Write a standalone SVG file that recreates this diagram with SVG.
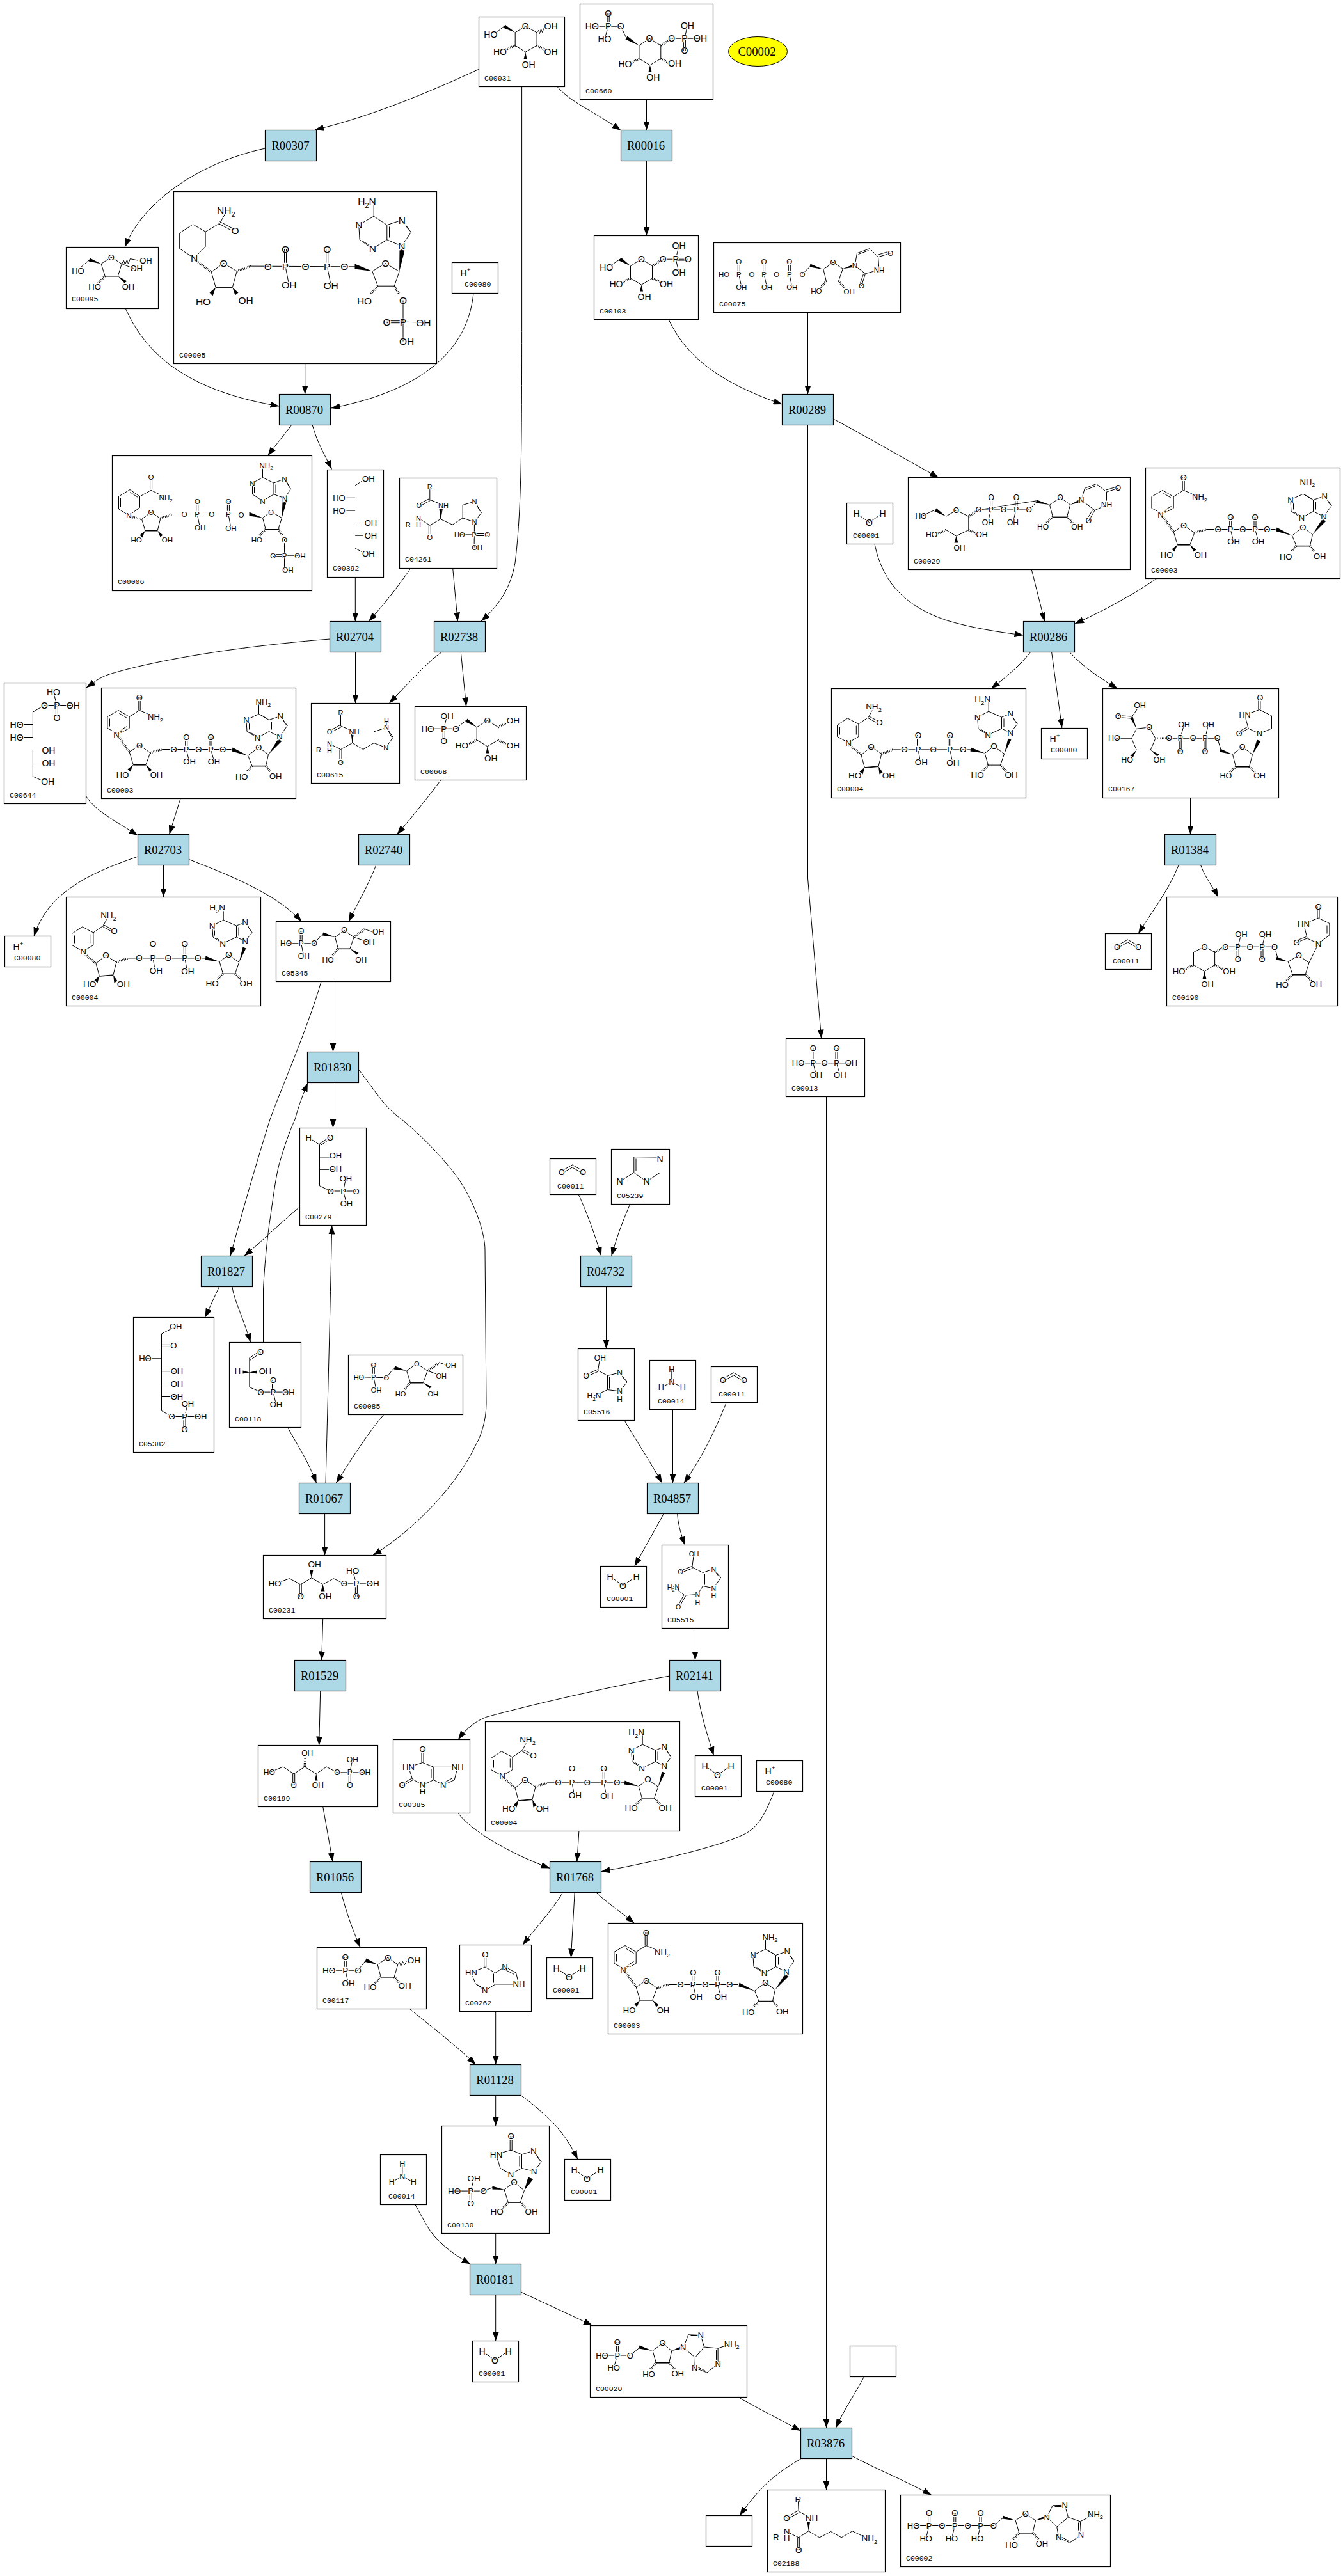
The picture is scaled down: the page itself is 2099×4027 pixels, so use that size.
<svg xmlns="http://www.w3.org/2000/svg" xmlns:xlink="http://www.w3.org/1999/xlink" width="2099" height="4027" viewBox="0 0 2099 4027">
<style>
.bg{fill:#fff}
.r{fill:#add8e6;stroke:#000;stroke-width:1.2}
.c{fill:#fff;stroke:#000;stroke-width:1.2}
.y{fill:#ff0;stroke:#000;stroke-width:1}
.t{font-family:"Liberation Serif",serif;font-size:18.7px;text-anchor:middle;dominant-baseline:central;fill:#000}
.l{font-family:"Liberation Mono",monospace;font-size:11.5px;fill:#000}
.m text{font-family:"Liberation Sans",sans-serif;text-anchor:middle;dominant-baseline:central;fill:#000;stroke:#fff;stroke-width:2.5px;paint-order:stroke}
.m path{fill:none;stroke:#000;stroke-width:1}
.m path.w{fill:#000;stroke:none}
.m path.h{stroke-width:3.5;stroke-dasharray:1 1.5}
.s{font-size:70%;baseline-shift:sub}
.u{font-size:70%;baseline-shift:super}
.e{fill:none;stroke:#000;stroke-width:1;marker-end:url(#a)}
</style>
<defs>
<marker id="a" markerUnits="userSpaceOnUse" markerWidth="14" markerHeight="10" refX="14" refY="5" orient="auto"><path d="M0,0L14,5L0,10z" fill="#000"/></marker>
<g id="water" class="m" font-size="14"><path d="M15,16 35,30 56,16"/><text x="15" y="16">H</text><text x="56" y="16">H</text><text x="35" y="30">O</text></g>
<g id="hplus" class="m" font-size="14"><text x="21" y="16">H<tspan class="u">+</tspan></text></g>
<g id="co2" class="m" font-size="12.5"><path d="M18.3,19 35,9.5 51.7,19M18.3,23 35,13.5 51.7,23"/><text x="18.3" y="21">O</text><text x="51.7" y="21">O</text></g>
<g id="nh3" class="m" font-size="12.5"><path d="M34.3,14.5 34.3,34 17.7,42.7M34.3,34 51.7,42.7"/><text x="34.3" y="14.5">H</text><text x="34.3" y="34">N</text><text x="17.7" y="42.7">H</text><text x="51.7" y="42.7">H</text></g>
<g id="nad" class="m" font-size="13">
<path d="M9.4,45 26.5,35 43.7,45 43.7,62.9 26.5,72 9.4,62.9zM13,48 13,60M27,39 40,47M40,60 30,66M43.7,45 59.2,35 84,45M57.7,35 57.7,14M60.7,35 60.7,14"/>
<path d="M43.7,100 59.6,89.6 76.3,101.4 69.4,120 49.8,120zM49.8,120.6 69.4,120.6M94.7,96 203,96M131.2,96 131.2,77M134.2,96 134.2,77M132.7,96 137,114M169.5,96 169.5,77M172.5,96 172.5,77M171,96 176,114"/>
<path class="h" d="M27,76 43.7,100M76.3,101.4 94.7,96M235.5,121.8 227,130.7M257,121.8 264.2,130.7"/>
<path class="w" d="M49.8,120 41,127 45,131zM69.4,120 75,131 79,128zM229,106 205,93 204,99zM261,104 276,80 282,83z"/>
<path d="M229,105.7 245.7,93 261,104 257,121.8 235.5,121.8zM235.5,122.4 257,122.4"/>
<path d="M278.4,76 290.6,59 279.6,44 262,50 262,68zM262,50 246,40.7 226.4,50 227.5,68 244,78 262,68M246,40.7 246,22M266,53 266,65M231,53 231,65M283,48 288,57M249,42 259,48M232,69 242,75"/>
<text x="59.2" y="14.6">O</text><text x="84.5" y="45">NH<tspan class="s">2</tspan></text><text x="26" y="73">N<tspan class="u">+</tspan></text><text x="59.6" y="89.6">O</text><text x="33" y="136">HO</text><text x="86" y="136">OH</text><text x="113" y="96">O</text><text x="132.7" y="96">P</text><text x="132.7" y="77">O</text><text x="137.6" y="114.6">OH</text><text x="151.8" y="96">O</text><text x="171" y="96">P</text><text x="171" y="77">O</text><text x="176" y="114.6">OH</text><text x="189.8" y="96">O</text><text x="245.7" y="93">O</text><text x="219.2" y="139">HO</text><text x="272.2" y="137.5">OH</text><text x="278.4" y="76">N</text><text x="279.6" y="44">N</text><text x="244" y="78">N</text><text x="226.4" y="50">N</text><text x="253" y="21.8">NH<tspan class="s">2</tspan></text>
</g>
<g id="nadh" class="m" font-size="13.5">
<path d="M9,57 25.3,46.4 42.4,55.4 42.4,75 26.5,84.6 9,75zM13,60 13,72M38.8,58 38.8,72M42.4,55.4 58,44.6 66,29M58,43 73,51M57,46 72,54"/>
<path d="M46.5,103.6 62,91 78.4,101.8 73.5,121.4 51.8,123.2zM51.8,123.8 73.5,122M96.7,95.4 221,95.4M134,95 134,72.5M137,95 137,72.5M135.5,95 139,115M183.8,95 183.8,72.5M186.8,95 186.8,72.5M185.3,95 189,115"/>
<path class="h" d="M28,88 46.5,103.6M78.4,101.8 96.7,95.4M245,119.6 236,129M264,119.6 273,129"/>
<path class="w" d="M51.8,123 44,130 49,134zM73.5,121.4 75,134 80,131zM239.6,101 218,92 217,98zM270.2,101.8 276,78 281,80z"/>
<path d="M239.6,101 253.9,90.4 270.2,101.8 264,119.6 245,119.6z"/>
<path d="M279.6,69 290.6,55.4 279.6,39.3 266,44.6 266,62.5zM266,44.6 245.7,35.7 228.2,44.6 229.4,62.5 244.5,72.5 266,62.5M245.7,35.7 245.7,20M269.5,47 269.5,60M232,47 232,60M283,43 288,53M234,64 243,69"/>
<text x="75" y="52.5">O</text><text x="66" y="27.5">NH<tspan class="s">2</tspan></text><text x="26.5" y="84.6">N</text><text x="62" y="91">O</text><text x="36.7" y="136.4">HO</text><text x="89.4" y="135.7">OH</text><text x="113.9" y="95.4">O</text><text x="135.5" y="95">P</text><text x="135.5" y="72.5">O</text><text x="140.4" y="115.4">OH</text><text x="159.2" y="95.4">O</text><text x="185.3" y="95">P</text><text x="185.3" y="72.5">O</text><text x="189.8" y="116">OH</text><text x="205.7" y="95.4">O</text><text x="253.9" y="90.4">O</text><text x="228.2" y="134.6">HO</text><text x="281.2" y="134.6">OH</text><text x="279.6" y="69">N</text><text x="279.6" y="39.3">N</text><text x="244.5" y="72.5">N</text><text x="228.2" y="44.6">N</text><text x="236" y="16">H<tspan class="s">2</tspan>N</text>
</g>
</defs>
<rect class="bg" width="2099" height="4027"/>
<g id="connectors">
<path class="e" d="M749,108C690,135 590,180 492,203"/>
<path class="e" d="M414.5,232C320,252 225,310 195,386.5"/>
<path class="e" d="M1010.5,155.5V203.5"/>
<path class="e" d="M871,135.5C892,160 925,172 970.5,204"/>
<path class="e" d="M1010.5,251.5V368.5"/>
<path class="e" d="M815.6,135.5V500C815.6,700 815,800 805,880C797,925 775,950 752,971"/>
<path class="e" d="M1045,499.5C1065,540 1100,590 1222.5,632"/>
<path class="e" d="M1262.5,488.5V616.5"/>
<path class="e" d="M196.6,483C231,560 300,612 436.5,635"/>
<path class="e" d="M476.7,568.5V616.5"/>
<path class="e" d="M740,458.5C730,560 640,615 517.5,638"/>
<path class="e" d="M455.6,664.5C440,685 430,697 418.4,712.5"/>
<path class="e" d="M488.2,664.5C497,695 508,712 518.5,733.5"/>
<path class="e" d="M555.3,902.5V971.5"/>
<path class="e" d="M641.7,888.5C620,920 600,945 576,971.5"/>
<path class="e" d="M707.7,888.5L715.3,971.5"/>
<path class="e" d="M515.5,999C380,1010 250,1030 171,1054C155,1059 145,1068 135,1075"/>
<path class="e" d="M555.5,1019.5V1099.5"/>
<path class="e" d="M690,1020C680,1025 650,1055 608.3,1099.5"/>
<path class="e" d="M720.3,1019.5L728.7,1104.5"/>
<path class="e" d="M689,1219.5C670,1245 650,1270 620.4,1304.5"/>
<path class="e" d="M134.7,1245C150,1268 175,1280 215.5,1306"/>
<path class="e" d="M282,1248.5L264.5,1304.5"/>
<path class="e" d="M215.5,1339C140,1365 75,1395 53,1463.5"/>
<path class="e" d="M255.5,1352.5V1402.5"/>
<path class="e" d="M295.5,1343.6C350,1365 430,1395 471.4,1440.5"/>
<path class="e" d="M587.8,1352.5C575,1385 560,1410 545,1440.5"/>
<path class="e" d="M502,1534.5C480,1610 440,1700 422,1750C400,1820 380,1890 360,1963.5"/>
<path class="e" d="M520.5,1534.5V1644.5"/>
<path class="e" d="M520.5,1692.5V1763.5"/>
<path class="e" d="M560.5,1672C590,1710 600,1730 628,1750C670,1785 700,1820 716,1842C745,1885 758,1930 758,1954L760,2194C760,2220 752,2245 743,2260C715,2320 650,2390 582.6,2431.5"/>
<path class="e" d="M468.5,1886.7C440,1910 410,1940 381.7,1963.5"/>
<path class="e" d="M342.6,2011.5L320.4,2059.5"/>
<path class="e" d="M363,2011.5C365,2030 380,2060 391.6,2098.5"/>
<path class="e" d="M411.5,2098.5V2015C414,1970 418,1935 421,1913C426,1880 430,1845 436,1821C445,1790 452,1770 461,1750C468,1725 474,1710 481,1692.5"/>
<path class="e" d="M509,2318.5C512,2200 516,2050 518.7,1915.5"/>
<path class="e" d="M449.8,2231.5C462,2255 480,2280 494.6,2318.5"/>
<path class="e" d="M599.8,2211.5C575,2240 550,2280 525.2,2318.5"/>
<path class="e" d="M507.6,2366.5V2431.5"/>
<path class="e" d="M504.7,2530.5L502.7,2595.5"/>
<path class="e" d="M500.7,2643.5L498.7,2728.5"/>
<path class="e" d="M504.7,2824.5L520,2910.5"/>
<path class="e" d="M533.3,2958.5C540,2985 550,3015 563.3,3044.5"/>
<path class="e" d="M640.4,3140.5C670,3165 710,3195 743.7,3227.5"/>
<path class="e" d="M774.7,3144.5V3227.5"/>
<path class="e" d="M774.7,3275.5V3323.5"/>
<path class="e" d="M814.7,3276C835,3290 850,3305 866,3320C880,3335 893,3355 902.9,3375.5"/>
<path class="e" d="M774.7,3491.5V3539.5"/>
<path class="e" d="M649,3446.5C662,3470 670,3487 682.4,3499.6C697,3515 715,3528 735.5,3539.5"/>
<path class="e" d="M774.7,3587.5V3659.5"/>
<path class="e" d="M814.7,3583.3C850,3600 890,3618 926,3635.5"/>
<path class="e" d="M1153.7,3747.5C1185,3765 1220,3783 1251.5,3800"/>
<path class="e" d="M1291.5,1714.5V3795.5"/>
<path class="e" d="M1262.5,664.5V1373L1283.7,1623.5"/>
<path class="e" d="M1302.5,655C1350,680 1410,715 1467,746.5"/>
<path class="e" d="M1367,850.5C1380,915 1420,950 1480,970C1520,982 1560,988 1599.5,993"/>
<path class="e" d="M1612.3,890.5L1632.7,971.5"/>
<path class="e" d="M1807.7,904.5C1770,930 1725,955 1680,975"/>
<path class="e" d="M1610.7,1019.5C1590,1045 1570,1060 1549,1076.5"/>
<path class="e" d="M1643.6,1019.5L1659.8,1138"/>
<path class="e" d="M1671.8,1019.5C1695,1045 1720,1060 1746.6,1076.5"/>
<path class="e" d="M1860.5,1247.5V1304.5"/>
<path class="e" d="M1842.2,1352.5C1825,1395 1800,1425 1779.1,1459.5"/>
<path class="e" d="M1876.6,1352.5C1885,1375 1895,1385 1904,1402.5"/>
<path class="e" d="M904.3,1867.5C915,1890 930,1930 939.7,1963.5"/>
<path class="e" d="M984.7,1882.5C975,1905 965,1930 955.7,1963.5"/>
<path class="e" d="M947.5,2011.5V2108.5"/>
<path class="e" d="M976,2220.5C990,2245 1010,2275 1035,2318.5"/>
<path class="e" d="M1051.5,2203.5V2318.5"/>
<path class="e" d="M1135.3,2192.5C1120,2230 1100,2275 1068.7,2318.5"/>
<path class="e" d="M1037.3,2366.5L991.7,2448.5"/>
<path class="e" d="M1058.7,2366.5C1060,2385 1065,2400 1070.7,2415.5"/>
<path class="e" d="M1086.5,2545.5V2595.5"/>
<path class="e" d="M1046.5,2620C960,2635 830,2665 760.7,2684C745,2690 730,2700 716,2719.5"/>
<path class="e" d="M1090,2643.5C1095,2680 1105,2710 1115.6,2744.5"/>
<path class="e" d="M716,2834.5C735,2860 790,2895 859.5,2920.5"/>
<path class="e" d="M904.9,2862.5L901.8,2910.5"/>
<path class="e" d="M1209.8,2801C1200,2825 1190,2850 1171.4,2862.5C1140,2885 1000,2915 939.5,2925.7"/>
<path class="e" d="M879.9,2958.5C860,2990 840,3010 817,3040.5"/>
<path class="e" d="M898.2,2958.5L892.4,3060.5"/>
<path class="e" d="M931.2,2958.5C950,2975 965,2985 991.5,3006.5"/>
<path class="e" d="M1350.5,3715.5C1335,3745 1320,3765 1306.3,3795.5"/>
<path class="e" d="M1251.5,3844C1215,3865 1190,3885 1155.9,3932.5"/>
<path class="e" d="M1291.5,3843.5V3892.5"/>
<path class="e" d="M1331.5,3839.3C1370,3860 1415,3878 1455.9,3900.5"/>
</g>
<g id="C00002-top"><ellipse class="y" cx="1184.5" cy="80.5" rx="46" ry="23"/><text class="t" x="1183" y="80.5">C00002</text></g>
<g id="R00307"><rect class="r" x="414.5" y="203.5" width="80" height="48"/><text class="t" x="454" y="227.5">R00307</text></g>
<g id="R00016"><rect class="r" x="970.5" y="203.5" width="80" height="48"/><text class="t" x="1009.5" y="227.5">R00016</text></g>
<g id="R00870"><rect class="r" x="436.5" y="616.5" width="80" height="48"/><text class="t" x="475.5" y="640.5">R00870</text></g>
<g id="R00289"><rect class="r" x="1222.5" y="616.5" width="80" height="48"/><text class="t" x="1261.5" y="640.5">R00289</text></g>
<g id="R00286"><rect class="r" x="1599.5" y="971.5" width="80" height="48"/><text class="t" x="1638.5" y="995.5">R00286</text></g>
<g id="R02704"><rect class="r" x="515.5" y="971.5" width="80" height="48"/><text class="t" x="554.5" y="995.5">R02704</text></g>
<g id="R02738"><rect class="r" x="678.5" y="971.5" width="80" height="48"/><text class="t" x="717.5" y="995.5">R02738</text></g>
<g id="R02703"><rect class="r" x="215.5" y="1304.5" width="80" height="48"/><text class="t" x="254.5" y="1328.5">R02703</text></g>
<g id="R02740"><rect class="r" x="560.5" y="1304.5" width="80" height="48"/><text class="t" x="599.5" y="1328.5">R02740</text></g>
<g id="R01384"><rect class="r" x="1820.5" y="1304.5" width="80" height="48"/><text class="t" x="1859.5" y="1328.5">R01384</text></g>
<g id="R01830"><rect class="r" x="480.5" y="1644.5" width="80" height="48"/><text class="t" x="519.5" y="1668.5">R01830</text></g>
<g id="R01827"><rect class="r" x="314.5" y="1963.5" width="80" height="48"/><text class="t" x="353.5" y="1987.5">R01827</text></g>
<g id="R04732"><rect class="r" x="907.5" y="1963.5" width="80" height="48"/><text class="t" x="946.5" y="1987.5">R04732</text></g>
<g id="R01067"><rect class="r" x="467.5" y="2318.5" width="80" height="48"/><text class="t" x="506.5" y="2342.5">R01067</text></g>
<g id="R04857"><rect class="r" x="1011.5" y="2318.5" width="80" height="48"/><text class="t" x="1050.5" y="2342.5">R04857</text></g>
<g id="R01529"><rect class="r" x="460.5" y="2595.5" width="80" height="48"/><text class="t" x="499.5" y="2619.5">R01529</text></g>
<g id="R02141"><rect class="r" x="1046.5" y="2595.5" width="80" height="48"/><text class="t" x="1085.5" y="2619.5">R02141</text></g>
<g id="R01768"><rect class="r" x="859.5" y="2910.5" width="80" height="48"/><text class="t" x="898.5" y="2934.5">R01768</text></g>
<g id="R01056"><rect class="r" x="484.5" y="2910.5" width="80" height="48"/><text class="t" x="523.5" y="2934.5">R01056</text></g>
<g id="R01128"><rect class="r" x="734.5" y="3227.5" width="80" height="48"/><text class="t" x="773.5" y="3251.5">R01128</text></g>
<g id="R00181"><rect class="r" x="734.5" y="3539.5" width="80" height="48"/><text class="t" x="773.5" y="3563.5">R00181</text></g>
<g id="R03876"><rect class="r" x="1251.5" y="3795.5" width="80" height="48"/><text class="t" x="1290.5" y="3819.5">R03876</text></g>

<g id="C00031"><rect class="c" x="748.5" y="26.5" width="134" height="109"/><g class="m" font-size="14" transform="translate(748.5,26.5)"><path d="M72.8,14.7 56.7,24.3 56.7,44.7 72.8,54.7 90.6,44.7 90.6,24.3zM39.7,14.3 29,23M90.6,24.3 93,21 95,26 97,19 99,24 102,17"/><path class="h" d="M56.7,44.7 40,52M90.6,44.7 105,52"/><path class="w" d="M56.7,24.3 38,17 41,12zM72.8,54.7 70,66 75,66z"/><text x="18.3" y="27.7">HO</text><text x="72.8" y="14.7">O</text><text x="112.5" y="14.7">OH</text><text x="33" y="54.7">HO</text><text x="112.5" y="54.7">OH</text><text x="77.7" y="74.7">OH</text></g><text class="l" x="757" y="125.5">C00031</text></g>

<g id="C00660"><rect class="c" x="906.5" y="6.5" width="208" height="149"/><g class="m" font-size="14" transform="translate(906.5,6.5)"><path d="M108.5,53.7 92.4,64.7 92.4,85.3 109.4,95.3 126.3,85.3 126.3,64.7zM18.8,34.7 63.8,34.7 72.8,53.7M42.7,34.7 42.7,14.7M45.7,34.7 45.7,14.7M44.2,34.7 38.4,54.7M143.3,53.7 188,53.7M163.4,53.7 167.9,33.7M161.9,53.7 161.9,72.7M164.9,53.7 164.9,72.7"/><path class="h" d="M126.3,64.7 143.3,53.7M92.4,85.3 78,93M126.3,85.3 140,92.7"/><path class="w" d="M92.4,64.7 71,55 74,50zM109.4,95.3 107,106 112,106z"/><text x="18.8" y="34.7">HO</text><text x="44.2" y="34.7">P</text><text x="44.2" y="14.7">O</text><text x="63.8" y="34.7">O</text><text x="38.4" y="54.7">HO</text><text x="108.5" y="53.7">O</text><text x="143.3" y="53.7">O</text><text x="163.4" y="53.7">P</text><text x="167.9" y="33.7">OH</text><text x="188" y="53.7">OH</text><text x="163.4" y="72.7">O</text><text x="70.5" y="93.7">HO</text><text x="148.2" y="92.7">OH</text><text x="114.3" y="114.7">OH</text></g><text class="l" x="915" y="145.5">C00660</text></g>

<g id="C00103"><rect class="c" x="928.5" y="368.5" width="163" height="131"/><g class="m" font-size="14" transform="translate(928.5,368.5)"><path d="M74,36.7 57,47.3 57,66.7 74,76.7 91,66.7 91,47.3zM40.6,36.7 27,46M107.6,36.7 146,36.7M127.7,36.7 132.6,15.7M127.7,36.7 132.6,57.3M127,35 146,35M127,38.5 146,38.5"/><path class="h" d="M91,47.3 107.6,36.7M57,66.7 43,73M91,66.7 105,73"/><path class="w" d="M57,47.3 39,39 42,34zM74,76.7 71.500,87 76.500,87z"/><text x="19.200" y="49.300">HO</text><text x="74" y="36.700">O</text><text x="107.600" y="36.700">O</text><text x="127.700" y="36.700">P</text><text x="132.600" y="15.700">OH</text><text x="146.900" y="36.700">O</text><text x="132.600" y="57.300">OH</text><text x="34.400" y="75.700">HO</text><text x="113" y="75.700">OH</text><text x="78.600" y="95.700">OH</text></g><text class="l" x="937" y="489.500">C00103</text></g>

<g id="C00075"><rect class="c" x="1115.500" y="379.500" width="292" height="109"/><g class="m" font-size="11.500" transform="translate(1115.500,379.500)"><path d="M16,49 138.400,49 152.200,35.700M37.800,49 37.800,29M40.800,49 40.800,29M39.300,49 43.300,69M77.100,49 77.100,29M80.100,49 80.100,29M78.600,49 83,69M116.800,49 116.800,29M119.800,49 119.800,29M118.300,49 122.300,69"/><path d="M171.400,41.700 186.600,30.700 201.800,40.700 195,60 175.900,60zM220.500,35.700 224,16.300 244,9 257,22.300 258.500,42.300 237,48.300zM226,18 242,12M257,22.300 276.300,16.300M256,19 274,13.500M237,48.300 231,67.300M234,49 228,66"/><path class="w" d="M171.400,41.700 151,33 150,38zM201.800,40.700 220,33 220,38z"/><path class="h" d="M175.900,60 167,70M195,60 204,70"/><text x="16" y="49">HO</text><text x="39.300" y="49">P</text><text x="39.300" y="29">O</text><text x="43.300" y="69">OH</text><text x="59.400" y="49">O</text><text x="78.600" y="49">P</text><text x="78.600" y="29">O</text><text x="83" y="69">OH</text><text x="98.200" y="49">O</text><text x="118.300" y="49">P</text><text x="118.300" y="29">O</text><text x="122.300" y="69">OH</text><text x="138.400" y="49">O</text><text x="186.600" y="30.700">O</text><text x="160.300" y="75.700">HO</text><text x="211.600" y="76.300">OH</text><text x="220.500" y="35.700">N</text><text x="276.300" y="16.300">O</text><text x="258.500" y="42.300">NH</text><text x="231" y="67.300">O</text></g><text class="l" x="1124" y="478.500">C00075</text></g>

<g id="C00080-1"><rect class="c" x="706.500" y="410.500" width="72" height="48"/><use href="#hplus" x="706.500" y="410.500"/><text class="l" x="726" y="448">C00080</text></g>

<g id="C00095"><rect class="c" x="103.500" y="386.500" width="144" height="96"/><g class="m" font-size="13" transform="translate(103.500,386.500)"><path d="M54.600,26 70.200,15.600 86.800,26 80.800,45 60.600,45zM60.600,45.500 80.800,45.500M36.300,19.800 22,32M86.800,26 90,21 92,27 95,20 97,26 100,18 112,20.600M86.800,26 105,33"/><path class="w" d="M54.600,26 35,22 37,17zM80.800,45 91,56 95,53z"/><path class="h" d="M60.600,45 50,56"/><text x="18.400" y="36.600">HO</text><text x="70.200" y="15.600">O</text><text x="124.400" y="20.600">OH</text><text x="109.700" y="33.200">OH</text><text x="44.500" y="61.900">HO</text><text x="96.900" y="61.900">OH</text></g><text class="l" x="112" y="471">C00095</text></g>

<g id="C00005"><rect class="c" x="271.500" y="299.500" width="411" height="269"/><g class="m" font-size="15.500" transform="translate(271.500,299.500)"><path d="M9.200,64.800 30,51.300 49.600,62.700 49.600,85.900 32,104 9.200,89.200zM13,68 13,86M46,66 46,83M49.600,62.700 72.500,49.200 81.700,32M72,47 95,59M71,50.500 94,62.500"/><path d="M58.800,125.800 78,112 98.700,124.600 91.800,149.800 65.700,149.800zM65.700,150.400 91.800,150.400M120.800,116.600 286,117.400M173,116.600 173,90M176,116.600 176,90M174.500,116.600 180,145M238.200,116.600 238.200,90M241.200,116.600 241.200,90M239.700,116.600 245.600,146M310.400,124.600 331,112 352.600,125 344.800,147.700 319,147.700zM358.500,170 358.500,234M333,202.200 358.500,202.200M333,205.200 358.500,205.200M358.500,203.700 390,204.500"/><path d="M356.300,85 371,63.600 356.800,44.600 333.300,52.200 333.300,75.300zM333.300,52.200 312.700,38.700 289.300,52.200 290.600,75.300 310.800,89.200 333.300,75.300M312.700,38.700 312.700,20M337,55 337,72M294,55 294,72M360,48 367,60M296,78 308,85"/><path class="h" d="M32,106 58.800,125.800M98.700,124.600 120.800,116.600M319,147.700 308,160M344.800,147.700 352,160"/><path class="w" d="M65.700,149.800 56,158 61,163zM91.800,149.800 96,162 101,158zM310.400,124.600 283,113 283,121zM352.600,125 353,90 361,92z"/><text x="81.700" y="29">NH<tspan class="s">2</tspan></text><text x="96" y="61.400">O</text><text x="32" y="104">N</text><text x="78" y="112">O</text><text x="46" y="172">HO</text><text x="112.500" y="170">OH</text><text x="147.400" y="117.400">O</text><text x="174.500" y="116.600">P</text><text x="174.500" y="90">O</text><text x="180.400" y="145.600">OH</text><text x="206" y="117.400">O</text><text x="239.700" y="116.600">P</text><text x="239.700" y="90">O</text><text x="245.600" y="146.500">OH</text><text x="266.800" y="117.400">O</text><text x="331" y="112">O</text><text x="298" y="171">HO</text><text x="358.500" y="170">O</text><text x="358.500" y="203.700">P</text><text x="333" y="203.700">O</text><text x="390.300" y="204.500">OH</text><text x="364" y="234.400">OH</text><text x="356.300" y="85">N</text><text x="356.800" y="44.600">N</text><text x="310.800" y="89.200">N</text><text x="289.300" y="52.200">N</text><text x="302" y="15">H<tspan class="s">2</tspan>N</text></g><text class="l" x="280" y="558.500">C00005</text></g>

<g id="C00006"><rect class="c" x="175.500" y="712.500" width="312" height="211"/><g class="m" font-size="11.600" transform="translate(175.500,712.500)"><path d="M10,63.600 27.500,53 43,63.600 43,81 26,93 10,83.300zM13,66 13,80M28,57 40,65M43,63.600 60.600,53.900 83,65M59.100,53 59.100,33M62.100,53 62.100,33M60.600,88.400 46,99 51.400,117 70.700,117 75.300,98zM51.400,117.500 70.700,117.500M93.700,91 216,91M131.200,91 131.200,70.700M134.200,91 134.200,70.700M132.700,91 137,112M179.900,91 179.900,70.700M182.900,91 182.900,70.700M181.400,91 185.500,113M235,97 248,87.500 265,97 259.400,115 239.700,115zM269,130.500 269,178M251.200,154.200 269,154.200M251.200,157.200 269,157.200M269,155.700 293,155.700"/><path d="M269.500,66.500 279,51.800 269,36.200 252.500,42.500 252.500,60.200zM252.500,42.500 235,34 219,42.500 219,60.200 235,70.700 252.500,60.200M235,34 235,20M255.500,45 255.500,58M222,45 222,58M272,39 277,50"/><path class="h" d="M27,95 46,99M75.300,98 93.700,91M239.700,115 230,125M259.400,115 266,124"/><path class="w" d="M51.400,117 43,124 47,128zM70.700,117 75,127 79,124zM235,97 214,88 214,94zM265,97 266,72 272,73z"/><text x="60.600" y="32.800">O</text><text x="83.700" y="65.200">NH<tspan class="s">2</tspan></text><text x="26" y="93">N</text><text x="60.600" y="88.400">O</text><text x="37.600" y="131">HO</text><text x="85.900" y="130.500">OH</text><text x="112.500" y="91">O</text><text x="132.700" y="91">P</text><text x="132.700" y="70.700">O</text><text x="137.300" y="112">OH</text><text x="155.200" y="91">O</text><text x="181.400" y="91">P</text><text x="181.400" y="70.700">O</text><text x="185.500" y="113">OH</text><text x="201.600" y="91.800">O</text><text x="248" y="87.500">O</text><text x="225.900" y="130.500">HO</text><text x="269" y="130.500">O</text><text x="269" y="155.700">P</text><text x="251.200" y="155.700">O</text><text x="293.400" y="155.700">OH</text><text x="274.400" y="178">OH</text><text x="269.500" y="66.500">N</text><text x="269" y="36.200">N</text><text x="235" y="70.700">N</text><text x="219" y="42.500">N</text><text x="240.600" y="14.700">NH<tspan class="s">2</tspan></text></g><text class="l" x="184" y="913">C00006</text></g>

<g id="C00392"><rect class="c" x="511.500" y="734.500" width="88" height="168"/><g class="m" font-size="13" transform="translate(511.500,734.500)"><path d="M43.600,24.400 54,17.700M30,43.800 43.600,43.800M30,63.600 43.600,63.600M43.600,83 56,83M43.600,102.700 56,102.700M43.600,122.700 54,128"/><text x="64.300" y="14.300">OH</text><text x="18.400" y="43.800">HO</text><text x="18.400" y="63.600">HO</text><text x="68" y="83">OH</text><text x="68" y="102.700">OH</text><text x="64.300" y="131.300">OH</text></g><text class="l" x="520" y="892">C00392</text></g>

<g id="C04261"><rect class="c" x="624.500" y="747.500" width="152" height="141"/><g class="m" font-size="11" transform="translate(624.500,747.500)"><path d="M47.300,13.900 47.300,33.700 68.400,42M46.500,32 30,40.500M48,35 31,44M68,42 64,64M29.400,62.300 47.300,73.700 64,64 82.600,72.800 98.700,62.300 98.700,42 117,36.600 128,53.900 117,68.600 98.700,62.300M45.800,73.700 45.800,92.600M48.800,73.700 48.800,92.600M102,44 102,60M120,40 125,51M117,68.600 116.600,108M93.700,88.400 116.600,88.400M116.600,87 137,87M116.600,90 137,90"/><path class="w" d="M64,64 62,48 66.500,48z"/><text x="47.300" y="13.900">R</text><text x="30.300" y="42">O</text><text x="68.400" y="42">NH</text><text x="47.300" y="92.600">O</text><text x="29.400" y="62.300">N</text><text x="29.400" y="72.800">H</text><text x="13.300" y="72.400">R</text><text x="117" y="36.600">N</text><text x="117" y="68.600">N</text><text x="116.600" y="88.400">P</text><text x="93.700" y="88.400">HO</text><text x="137.300" y="88.400">O</text><text x="121" y="108">OH</text></g><text class="l" x="633" y="878">C04261</text></g>

<g id="C00029"><rect class="c" x="1419.500" y="746.500" width="347" height="144"/><g class="m" font-size="12" transform="translate(1419.500,746.500)"><path d="M19.900,60.800 42,50.500M59,60.800 75,51.300 94.300,60.800 94.300,82 75,91.500 59,82zM110,50.500 202.700,36M110,50.500 188.600,50.500 202.700,36M128.100,50 128.100,31M131.100,50 131.100,31M129.600,50 124.300,70M167.300,50 167.300,31M170.300,50 170.300,31M168.800,50 163.500,70M221,42.500 237.700,31.400 253.300,42.500 248,61.600 226,61.600zM226,62.200 248,62.200M270.600,35.200 275.900,16.800 294,10 310,22.600 310,42.900 291.500,51.300zM278,19 292,13.500M310,22.600 328,16.800M309,19.500 327,14M291.500,51.300 282,67.700M288.500,50 279,66"/><path class="w" d="M59,60.800 41,53 44,48zM75,91.500 72,102 78,102zM221,42.500 201,35 200,40zM253.300,42.500 270,33 271,38z"/><path class="h" d="M94.300,60.800 110,50.500M59,82 46,88M94.300,82 106,88M226,61.600 216,71M248,61.600 257,71"/><text x="19.900" y="60.800">HO</text><text x="75" y="51.300">O</text><text x="36.500" y="89.600">HO</text><text x="115" y="89.600">OH</text><text x="80" y="110">OH</text><text x="110" y="50.500">O</text><text x="129.600" y="50.500">P</text><text x="129.600" y="31">O</text><text x="124.300" y="70.400">OH</text><text x="149" y="50.500">O</text><text x="168.800" y="50.500">P</text><text x="168.800" y="31">O</text><text x="163.500" y="70.400">OH</text><text x="188.600" y="50.500">O</text><text x="237.700" y="31.400">O</text><text x="210.500" y="77">HO</text><text x="263.800" y="77">OH</text><text x="270.600" y="35.200">N</text><text x="328" y="16.800">O</text><text x="310" y="42.900">NH</text><text x="282" y="67.700">O</text></g><text class="l" x="1428" y="880.500">C00029</text></g>

<g id="C00003-1"><rect class="c" x="1790.500" y="731.500" width="304" height="173"/><use href="#nad" x="1790.500" y="731.500"/><text class="l" x="1799" y="894.500">C00003</text></g>
<g id="C00001-1"><rect class="c" x="1323.500" y="786.500" width="72" height="64"/><use href="#water" x="1323.500" y="786.500"/><text class="l" x="1333" y="840.500">C00001</text></g>
<g id="C00004-1"><rect class="c" x="1299.500" y="1076.500" width="304" height="171"/><use href="#nadh" x="1299.500" y="1076.500"/><text class="l" x="1308" y="1237">C00004</text></g>
<g id="C00080-2"><rect class="c" x="1627.500" y="1138.500" width="72" height="48"/><use href="#hplus" x="1627.500" y="1138.500"/><text class="l" x="1642" y="1176">C00080</text></g>

<g id="C00167"><rect class="c" x="1723.500" y="1076.500" width="275" height="171"/><g class="m" font-size="12.500" transform="translate(1723.500,1076.500)"><path d="M58,26 45,45M24,42 44,43.500M24,45 44,46.500M52.800,62.800 72.600,60.500 82.500,77.700 74.700,96 52.800,96 45,77.700zM17.800,77.700 45,77.700M103.500,77.700 179.200,77.700 185,96.800M121.200,77.700 127,56.600M119.700,77.700 119.700,98M122.700,77.700 122.700,98M159.900,77.700 165,56.600M158.400,77.700 158.400,98M161.400,77.700 161.400,98M203,103 218,91 234,103 229,122 208,122zM208,122.600 229,122.600M244.900,70.400 227.600,62.400 222,41.300 244.900,33 264,42.500 264,62.400zM227.600,62.400 213,70.400M226,60 212,67.500M243.400,33 243.400,14.500M246.400,33 246.400,14.500M260,46 260,59"/><path class="w" d="M52.800,62.800 43,46 47,44zM52.800,96 43,105 47,108zM74.700,96 85,106 88,103zM203,103 184,94 183,99zM234,103 241,80 247,82z"/><path class="h" d="M82.500,77.700 103.500,77.700M208,122 198,132M229,122 238,132"/><text x="58" y="26">OH</text><text x="24" y="43.600">O</text><text x="72.600" y="60.500">O</text><text x="17.800" y="77.700">HO</text><text x="38" y="111.400">HO</text><text x="88.300" y="111.400">OH</text><text x="103.500" y="77.700">O</text><text x="121.200" y="77.700">P</text><text x="127" y="56.600">OH</text><text x="121.200" y="98">O</text><text x="141" y="77.700">O</text><text x="159.900" y="77.700">P</text><text x="165" y="56.600">OH</text><text x="159.900" y="98">O</text><text x="179.200" y="77.700">O</text><text x="218" y="91">O</text><text x="192.300" y="136">HO</text><text x="245" y="136">OH</text><text x="244.900" y="70.400">N</text><text x="213" y="70.400">O</text><text x="222" y="41.300">HN</text><text x="245.800" y="14.500">O</text></g><text class="l" x="1732" y="1237">C00167</text></g>

<g id="C00011-1"><rect class="c" x="1727.500" y="1459.500" width="72" height="56"/><use href="#co2" x="1727.500" y="1459.500"/><text class="l" x="1739" y="1505.500">C00011</text></g>

<g id="C00190"><rect class="c" x="1823.500" y="1402.500" width="267" height="170"/><g class="m" font-size="13" transform="translate(1823.500,1402.500)"><path d="M59,77.700 42,86 42,106 59,116 75.100,106 75.100,86zM91.700,77.700 168.600,77.700 173.700,96M111.200,77.700 116.400,57.700M109.700,77.700 109.700,96.700M112.700,77.700 112.700,96.700M149,77.700 154,57.700M147.500,77.700 147.500,96.700M150.500,77.700 150.500,96.700M189.800,101 206.400,91 222.400,102.700 216.700,121 196.700,121zM196.700,121.600 216.700,121.600M222.400,102.700 237,72.700 219.600,64.300 214,41.700 237,32.700 254.400,41 254.400,59.300 237,72.700M219.600,64.300 203,71M218,62 202,68M235.500,32.700 235.500,15M238.500,32.700 238.500,15M250.500,44 250.500,57"/><path class="h" d="M75.100,86 91.700,77.700M42,106 28,113M75.100,106 89,113M196.700,121 187,131M216.700,121 226,131"/><path class="w" d="M59,116 56,128 62,128zM189.800,101 172,93 171,98z"/><text x="59" y="77.700">O</text><text x="19" y="116">HO</text><text x="97.600" y="116">OH</text><text x="63.700" y="136">OH</text><text x="91.700" y="77.700">O</text><text x="111.200" y="77.700">P</text><text x="116.400" y="57.700">OH</text><text x="111.200" y="96.700">O</text><text x="130" y="77.700">O</text><text x="149" y="77.700">P</text><text x="154" y="57.700">OH</text><text x="149" y="96.700">O</text><text x="168.600" y="77.700">O</text><text x="206.400" y="91">O</text><text x="180.600" y="136.700">HO</text><text x="233" y="136">OH</text><text x="237" y="72.700">N</text><text x="203" y="71">O</text><text x="214" y="41.700">HN</text><text x="237" y="15">O</text></g><text class="l" x="1832" y="1562.500">C00190</text></g>

<g id="C00013"><rect class="c" x="1228.500" y="1623.500" width="123" height="91"/><g class="m" font-size="13" transform="translate(1228.500,1623.500)"><path d="M19,38.300 102,38.300M42.400,15 42.400,38.300 47,56.700M77.500,38 77.500,15M80.500,38 80.500,15M79,38.300 84.300,56.700"/><text x="19" y="38.300">HO</text><text x="42.400" y="38.300">P</text><text x="42.400" y="15">O</text><text x="47" y="56.700">OH</text><text x="60" y="38.300">O</text><text x="79" y="38.300">P</text><text x="79" y="15">O</text><text x="84.300" y="56.700">OH</text><text x="102" y="38.300">OH</text></g><text class="l" x="1237" y="1704.500">C00013</text></g>

<g id="C00644"><rect class="c" x="6.500" y="1067.500" width="128" height="189"/><g class="m" font-size="14" transform="translate(6.500,1067.500)"><path d="M44.900,85 44.900,45.700 62.900,35 107.800,35M82.400,35 77,14.600M80.900,35 80.900,54.600M83.900,35 83.900,54.600M19.600,65 44.900,65M19.600,85 44.900,85M44.900,105 44.900,146.400 60,153M44.900,105 69.400,105M44.900,125 69.400,125"/><text x="62.900" y="35">O</text><text x="82.400" y="35">P</text><text x="77" y="14.600">HO</text><text x="107.800" y="35">OH</text><text x="82.400" y="54.600">O</text><text x="19.600" y="65">HO</text><text x="19.600" y="85">HO</text><text x="69.400" y="105">OH</text><text x="69.400" y="125">OH</text><text x="68.200" y="154.600">OH</text></g><text class="l" x="15" y="1246.500">C00644</text></g>

<g id="C00003-2"><rect class="c" x="158.500" y="1075.500" width="304" height="173"/><use href="#nad" x="158.500" y="1075.500"/><text class="l" x="167" y="1238.500">C00003</text></g>

<g id="C00615"><rect class="c" x="486.500" y="1099.500" width="138" height="125"/><g class="m" font-size="11" transform="translate(486.500,1099.500)"><path d="M46,14.600 46,35.400 66.900,44.300M45,34 28.600,43M47,37 29,46M66,44.300 64,62M28.600,63.200 46,72 64,62 81,72 98,62 98,44.300 117.600,37.900 127.800,53.200 116.700,69.300 98,62M44.500,72 44.500,92.500M47.500,72 47.500,92.500M101,46 101,60M120,42 125,52M117.600,37.900 117.600,27"/><path class="w" d="M64,62 62,46 66.500,46z"/><text x="46" y="14.600">R</text><text x="28.600" y="44.300">O</text><text x="66.900" y="44.300">NH</text><text x="46" y="92.500">O</text><text x="28.600" y="63.200">N</text><text x="28.600" y="73.600">H</text><text x="11.400" y="72.900">R</text><text x="117.600" y="37.900">N</text><text x="117.600" y="27">H</text><text x="116.700" y="69.300">N</text></g><text class="l" x="495" y="1214.500">C00615</text></g>

<g id="C00668"><rect class="c" x="648.500" y="1104.500" width="174" height="115"/><g class="m" font-size="13.500" transform="translate(648.500,1104.500)"><path d="M113.300,21.700 96.700,32.300 96.700,52.300 113.300,62.300 130,52.300 130,32.300zM20,34.700 64,34.700 80,21.700M45.300,34.700 50,14.700M43.800,34.700 43.800,54M46.800,34.700 46.800,54"/><path class="w" d="M96.700,32.300 79,24 82,19zM113.300,62.300 111,73 116,73z"/><path class="h" d="M130,32.300 142,26M96.700,52.300 83,59M130,52.300 143,59"/><text x="113.300" y="21.700">O</text><text x="64" y="34.700">O</text><text x="45.300" y="34.700">P</text><text x="50" y="14.700">OH</text><text x="45.300" y="54">O</text><text x="20" y="34.700">HO</text><text x="153.300" y="21.700">OH</text><text x="73.300" y="61.300">HO</text><text x="153.300" y="61.300">OH</text><text x="118.700" y="80.700">OH</text></g><text class="l" x="657" y="1209.500">C00668</text></g>

<g id="C00080-3"><rect class="c" x="7.500" y="1463.500" width="72" height="48"/><use href="#hplus" x="7.500" y="1463.500"/><text class="l" x="22" y="1501">C00080</text></g>
<g id="C00004-2"><rect class="c" x="103.500" y="1402.500" width="304" height="170"/><use href="#nadh" x="103.500" y="1402.500"/><text class="l" x="112" y="1562.500">C00004</text></g>

<g id="C05345"><rect class="c" x="431.500" y="1440.500" width="179" height="94"/><g class="m" font-size="12" transform="translate(431.500,1440.500)"><path d="M15.500,34.300 59.600,34.300 72.600,19.300M37.700,34 37.700,15M40.700,34 40.700,15M39.200,34.300 43.300,54.300M92.200,24.600 106.500,13.900 121.600,24.600 115.500,42.500 97,42.500zM97,43.100 115.500,43.100M121.600,24.600 145,32.500M138.800,12 150,16"/><path class="w" d="M92.200,24.600 72,22 74,17zM115.500,42.500 126,52 129,49z"/><path class="h" d="M121.600,24.600 138.800,12M97,42.500 88,53"/><text x="15.500" y="34.300">HO</text><text x="39.200" y="34.300">P</text><text x="39.200" y="15">O</text><text x="43.300" y="54.300">OH</text><text x="59.600" y="34.300">O</text><text x="106.500" y="13.900">O</text><text x="81" y="60.400">HO</text><text x="132.700" y="60.400">OH</text><text x="145" y="32.500">OH</text><text x="159.600" y="16.400">OH</text></g><text class="l" x="440" y="1524.500">C05345</text></g>

<g id="C00279"><rect class="c" x="468.500" y="1763.500" width="104" height="152"/><g class="m" font-size="13" transform="translate(468.500,1763.500)"><path d="M13.800,14.800 31,26 31,90.300 48.200,98.500 88,98.500M31,24.500 47.500,13.500M32.500,27 48,16.500M31,45.400 55.900,45.400M31,64.800 55.900,64.800M68,98.500 72,78.600M68,98.500 73,117.900M68,97 88,97M68,100 88,100"/><text x="13.800" y="14.800">H</text><text x="47.500" y="14.800">O</text><text x="55.900" y="43.400">OH</text><text x="55.900" y="63.800">OH</text><text x="48.200" y="98.500">O</text><text x="68" y="98.500">P</text><text x="72" y="78.600">OH</text><text x="88" y="98.500">O</text><text x="73" y="117.900">OH</text></g><text class="l" x="477" y="1905.500">C00279</text></g>

<g id="C05382"><rect class="c" x="208.500" y="2059.500" width="126" height="211"/><g class="m" font-size="13" transform="translate(208.500,2059.500)"><path d="M66.200,14.300 44,25.500 44,146 60,155 105,155M44,42.900 62.700,42.900M44,45.900 62.700,45.900M18.400,64.300 44,64.300M44,84.200 68,84.200M44,104 68,104M44,124 68,124M80,155 85,134.700M78.500,155 78.500,175M81.500,155 81.500,175"/><text x="66.200" y="14.300">OH</text><text x="62.700" y="44.400">O</text><text x="18.400" y="64.300">HO</text><text x="68" y="84.200">OH</text><text x="68" y="104">OH</text><text x="68" y="124">OH</text><text x="60" y="155">O</text><text x="80" y="155">P</text><text x="85" y="134.700">OH</text><text x="105.200" y="155">OH</text><text x="80" y="175">O</text></g><text class="l" x="217" y="2260.500">C05382</text></g>

<g id="C00118"><rect class="c" x="358.500" y="2098.500" width="112" height="133"/><g class="m" font-size="13" transform="translate(358.500,2098.500)"><path d="M31.400,26.500 31.400,70 49,77.600 92,77.600M30.500,25 47.600,13.500M32,28 49,16.500M68.500,77.600 73,97M67,77 67,58.700M70,77 70,58.700"/><path class="w" d="M31.400,47 21,44 21,49zM31.400,47 43,44 43,49z"/><text x="48.600" y="14.800">O</text><text x="13" y="45.400">H</text><text x="55.900" y="45.400">OH</text><text x="49" y="77.600">O</text><text x="68.500" y="77.600">P</text><text x="68.500" y="58.700">O</text><text x="92.300" y="77.600">OH</text><text x="73" y="97">OH</text></g><text class="l" x="367" y="2221.500">C00118</text></g>

<g id="C00085"><rect class="c" x="544.500" y="2118.500" width="179" height="93"/><g class="m" font-size="11" transform="translate(544.500,2118.500)"><path d="M16.400,34.200 59.200,35.200 71.800,19.400M37.800,34 37.800,15.300M40.800,34 40.800,15.300M39.300,34.200 43.600,54M91,24.500 106.800,13.300 123.700,24.500 117,42.900 97,42.900zM97,43.500 117,43.500M123.700,24.500 145,32M142.700,11.700 152,15"/><path class="w" d="M91,24.500 71,22 73,17zM117,42.900 127,52 130,49z"/><path class="h" d="M123.700,24.500 142.700,11.700M97,42.900 88,53"/><text x="16.400" y="34.200">HO</text><text x="39.300" y="34.200">P</text><text x="39.300" y="15.300">O</text><text x="43.600" y="54">OH</text><text x="59.200" y="35.200">O</text><text x="106.800" y="13.300">O</text><text x="81.500" y="60.200">HO</text><text x="132.300" y="60.200">OH</text><text x="145.300" y="32">OH</text><text x="159.900" y="15.800">OH</text></g><text class="l" x="553" y="2201.500">C00085</text></g>

<g id="C00231"><rect class="c" x="411.500" y="2431.500" width="192" height="99"/><g class="m" font-size="13.500" transform="translate(411.500,2431.500)"><path d="M18,44.400 41,36.200 58.200,45.400 75.400,35.200 93,45.400 109.800,36.200 126.300,44.400 171,44.400M56.700,45 56.700,64.300M59.700,45 59.700,64.300M145.400,44.400 139.700,23.500M143.900,44 143.900,64.300M146.900,44 146.900,64.300"/><path class="w" d="M75.400,35.200 72.500,23 78,23zM93,45.400 90,56 96,56z"/><text x="18" y="44.400">HO</text><text x="58.200" y="64.300">O</text><text x="80" y="13.800">OH</text><text x="96.800" y="64.300">OH</text><text x="126.300" y="44.400">O</text><text x="145.400" y="44.400">P</text><text x="139.700" y="23.500">HO</text><text x="171" y="44.400">OH</text><text x="145.400" y="64.300">O</text></g><text class="l" x="420" y="2520.500">C00231</text></g>

<g id="C00011-2"><rect class="c" x="859.500" y="1811.500" width="72" height="56"/><use href="#co2" x="859.500" y="1811.500"/><text class="l" x="871" y="1857.500">C00011</text></g>

<g id="C05239"><rect class="c" x="955.500" y="1796.500" width="91" height="86"/><g class="m" font-size="14" transform="translate(955.500,1796.500)"><path d="M13,50.400 35.300,36.800 35.300,12.100 76,12.500 76,36.800 55,50.400 35.300,36.800M38.500,34 38.500,15M73,20 73,34"/><text x="13" y="50.400">N</text><text x="55" y="50.400">N</text><text x="76" y="15">N</text></g><text class="l" x="964" y="1872.500">C05239</text></g>

<g id="C05516"><rect class="c" x="903.500" y="2108.500" width="88" height="112"/><g class="m" font-size="12" transform="translate(903.500,2108.500)"><path d="M34.300,14 31,34 46,42 46,64 65,66.400 76.700,51.900 65,37.300 46,42M30.500,32.500 12.700,40.500M31.500,35.500 13,43.500M49,44 49,62M67,40 74,50M46,64 25,73.700"/><text x="34.300" y="14">OH</text><text x="12.700" y="42">O</text><text x="65" y="37.300">N</text><text x="65" y="66.400">N</text><text x="65" y="79.500">H</text><text x="25" y="73.700">H<tspan class="s">2</tspan>N</text></g><text class="l" x="912" y="2210.500">C05516</text></g>

<g id="C00014-1"><rect class="c" x="1015.500" y="2126.500" width="72" height="77"/><use href="#nh3" x="1015.500" y="2126.500"/><text class="l" x="1028" y="2193.500">C00014</text></g>
<g id="C00011-3"><rect class="c" x="1111.500" y="2136.500" width="72" height="56"/><use href="#co2" x="1111.500" y="2136.500"/><text class="l" x="1123" y="2182.500">C00011</text></g>
<g id="C00001-2"><rect class="c" x="938.500" y="2448.500" width="72" height="64"/><use href="#water" x="938.500" y="2448.500"/><text class="l" x="948" y="2502.500">C00001</text></g>

<g id="C05515"><rect class="c" x="1034.500" y="2415.500" width="104" height="130"/><g class="m" font-size="10.500" transform="translate(1034.500,2415.500)"><path d="M50,13 47.300,34.400 64,43 64,64 80.700,67.400 92.300,50.400 80.700,37.300 64,43M47,33 29,40M48,36 29,43.500M67,45 67,62M83,41 90,50M64,64 55.700,77 35.700,78.500 18,65M34.500,77.500 25,95M37,79.500 27,97"/><text x="50" y="13">OH</text><text x="29" y="41.700">O</text><text x="80.700" y="37.300">N</text><text x="80.700" y="67.400">N</text><text x="80.700" y="78.600">H</text><text x="18" y="65">H<tspan class="s">2</tspan>N</text><text x="25.700" y="96.500">O</text><text x="55.700" y="77">N</text><text x="55.700" y="89">H</text></g><text class="l" x="1043" y="2535.500">C05515</text></g>

<g id="C00199"><rect class="c" x="403.500" y="2728.500" width="187" height="96"/><g class="m" font-size="12" transform="translate(403.500,2728.500)"><path d="M17.300,42.400 39,33.500 55.700,44.600 72.700,33.500 90.700,44.600 106.700,33.500 123.300,42.400 166.700,42.400M54.200,44 54.200,62.500M57.200,44 57.200,62.500M143.300,42.400 147.300,22.300M141.800,42 141.800,62.500M144.800,42 144.800,62.500"/><path class="h" d="M72.700,33.500 73.500,20"/><path class="w" d="M90.700,44.600 88.500,55 93,55z"/><text x="17.300" y="42.400">HO</text><text x="55.700" y="62.500">O</text><text x="76.700" y="12.500">OH</text><text x="93.300" y="62.500">OH</text><text x="123.300" y="42.400">O</text><text x="143.300" y="42.400">P</text><text x="147.300" y="22.300">OH</text><text x="166.700" y="42.400">OH</text><text x="143.300" y="62.500">O</text></g><text class="l" x="412" y="2814.500">C00199</text></g>

<g id="C00385"><rect class="c" x="614.500" y="2719.500" width="120" height="115"/><g class="m" font-size="13" transform="translate(614.500,2719.500)"><path d="M44.500,36 44.500,15.200M47.500,36 47.500,15.200M46,36 24,42.900 30,61.600 46,71 63.300,63 63.300,42.900 46,36M63.300,42.900 100.700,42.900 95.700,63 78.300,71 63.300,63M30,60 14,69M31,63 15,72M59.500,46 59.500,60M80,67 93,60"/><text x="46" y="15.200">O</text><text x="24" y="42.900">HN</text><text x="14" y="70.500">O</text><text x="46" y="71">N</text><text x="46" y="80.800">H</text><text x="100.700" y="42.900">NH</text><text x="78.300" y="71">N</text></g><text class="l" x="623" y="2824.500">C00385</text></g>

<g id="C00004-3"><rect class="c" x="758.500" y="2691.500" width="304" height="171"/><use href="#nadh" x="758.500" y="2691.500"/><text class="l" x="767" y="2852.500">C00004</text></g>
<g id="C00001-3"><rect class="c" x="1086.500" y="2744.500" width="72" height="64"/><use href="#water" x="1086.500" y="2744.500"/><text class="l" x="1096" y="2798.500">C00001</text></g>
<g id="C00080-4"><rect class="c" x="1182.500" y="2752.500" width="72" height="48"/><use href="#hplus" x="1182.500" y="2752.500"/><text class="l" x="1197" y="2790">C00080</text></g>

<g id="C00117"><rect class="c" x="495.500" y="3044.500" width="171" height="96"/><g class="m" font-size="13.500" transform="translate(495.500,3044.500)"><path d="M18.700,35.700 64,35.700 76.300,20M42.800,35 42.800,15.200M45.800,35 45.800,15.200M44.300,35.700 49,56.300M94.700,26.800 110.700,15.600 126.300,26.800 120.700,46 99.700,46zM99.700,46.600 120.700,46.600M126.300,26.800 129,23 131,29 134,22 137,27 140,21"/><path class="w" d="M94.700,26.800 75,22.500 77,17z"/><path class="h" d="M99.700,46 90,57M120.700,46 129,56"/><text x="18.700" y="35.700">HO</text><text x="44.300" y="35.700">P</text><text x="44.300" y="15.200">O</text><text x="49" y="56.300">OH</text><text x="64" y="35.700">O</text><text x="110.700" y="15.600">O</text><text x="83" y="61.600">HO</text><text x="137" y="60.300">OH</text><text x="151.300" y="20">OH</text></g><text class="l" x="504" y="3130.500">C00117</text></g>

<g id="C00262"><rect class="c" x="718.500" y="3040.500" width="112" height="104"/><g class="m" font-size="13" transform="translate(718.500,3040.500)"><path d="M38.200,34.600 38.200,15M41.200,34.600 41.200,15M39.700,34.600 17.900,42.900 24.600,60.700 39.300,71.400 55.800,61.400 92.400,61.400 88,43.600 70.500,34 55.800,43.600 39.700,34.600M53,45 53,59M68,37 85,46M27,62 37,68"/><text x="39.700" y="15">O</text><text x="17.900" y="42.900">HN</text><text x="39.300" y="71.400">N</text><text x="70.500" y="34">N</text><text x="92.400" y="61.400">NH</text></g><text class="l" x="727" y="3134.500">C00262</text></g>

<g id="C00001-4"><rect class="c" x="854.500" y="3060.500" width="72" height="64"/><use href="#water" x="854.500" y="3060.500"/><text class="l" x="864" y="3114.500">C00001</text></g>
<g id="C00003-3"><rect class="c" x="950.500" y="3006.500" width="304" height="173"/><use href="#nad" x="950.500" y="3006.500"/><text class="l" x="959" y="3169.500">C00003</text></g>

<g id="C00130"><rect class="c" x="690.500" y="3323.500" width="168" height="168"/><g class="m" font-size="13.500" transform="translate(690.500,3323.500)"><path d="M106.700,37.600 106.700,15.900M109.700,37.600 109.700,15.900M108.200,37.600 84.900,44.500 91.400,66 107.800,75.500 125,66 125,44.500 108.200,37.600M125,44.500 143.300,38.800 155.600,56 144,71 125,66M121.500,47 121.500,63M146,42 153,54M94,68 105,74M97.600,99.600 113.100,87.800 128.900,100.800 122.900,119.200 103.700,119.200zM103.700,119.800 122.900,119.800M19.600,101.600 65.300,101.600 80,96M45.300,101.600 50.200,82.400M43.800,101 43.800,121.200M46.800,101 46.800,121.200"/><path class="w" d="M128.900,100.800 135,80 143,83zM97.600,99.600 79,94 79,99z"/><path class="h" d="M103.700,119.200 95,129M122.900,119.200 131,129"/><text x="108.200" y="15.900">O</text><text x="84.900" y="44.500">HN</text><text x="107.800" y="75.500">N</text><text x="143.300" y="38.800">N</text><text x="144" y="71">N</text><text x="113.100" y="87.800">O</text><text x="86.100" y="133.500">HO</text><text x="140" y="133.500">OH</text><text x="65.300" y="101.600">O</text><text x="45.300" y="101.600">P</text><text x="50.200" y="82.400">OH</text><text x="19.600" y="101.600">HO</text><text x="45.300" y="121.200">O</text></g><text class="l" x="699" y="3481.500">C00130</text></g>

<g id="C00014-2"><rect class="c" x="594.500" y="3368.500" width="72" height="78"/><use href="#nh3" x="594.500" y="3368.500"/><text class="l" x="607" y="3436.500">C00014</text></g>
<g id="C00001-5"><rect class="c" x="882.500" y="3375.500" width="72" height="64"/><use href="#water" x="882.500" y="3375.500"/><text class="l" x="892" y="3429.500">C00001</text></g>
<g id="C00001-6"><rect class="c" x="738.500" y="3659.500" width="72" height="64"/><use href="#water" x="738.500" y="3659.500"/><text class="l" x="748" y="3713.500">C00001</text></g>

<g id="C00020"><rect class="c" x="922.500" y="3635.500" width="245" height="112"/><g class="m" font-size="13" transform="translate(922.500,3635.500)"><path d="M18.400,46.500 62.400,46.500 78.400,33.500M40.900,46 40.900,26M43.900,46 43.900,26M42.400,46.500 36.700,66M97.600,39.600 113.100,27.300 127.300,39.600 123.300,58 102.900,58zM102.900,58.600 123.300,58.600M145.300,34.300 153.500,14.300 172.700,15 178,33.500 164,49.800zM157,16 170,16M178,33.500 199.600,35.500 199.600,60 182.400,73.500 163.300,66 164,49.800M181,36 181,47M166,64 180,71M197,38 197,58M199.600,35.500 221,28.600"/><path class="w" d="M97.600,39.600 77,31 76,36zM127.300,39.600 145,31 146,36z"/><path class="h" d="M102.900,58 94,68M123.300,58 132,68"/><text x="18.400" y="46.500">HO</text><text x="42.400" y="46.500">P</text><text x="42.400" y="26">O</text><text x="36.700" y="66">HO</text><text x="62.400" y="46.500">O</text><text x="113.100" y="27.300">O</text><text x="91.400" y="76.300">HO</text><text x="136.700" y="75">OH</text><text x="145.300" y="34.300">N</text><text x="172.700" y="15">N</text><text x="163.300" y="66">N</text><text x="199.600" y="60">N</text><text x="221.200" y="28.600">NH<tspan class="s">2</tspan></text></g><text class="l" x="931" y="3737.500">C00020</text></g>

<g id="node-empty-1"><rect class="c" x="1328.500" y="3667.500" width="72" height="48"/></g>
<g id="node-empty-2"><rect class="c" x="1103.500" y="3932.500" width="72" height="48"/></g>

<g id="C02188"><rect class="c" x="1199.500" y="3892.500" width="184" height="128"/><g class="m" font-size="13.500" transform="translate(1199.500,3892.500)"><path d="M47.800,15 48.700,33.700 69,44.300M47.500,32.500 30,42.500M49,35.500 31,45.500M30,65 48.700,74.300 64.300,64.300 81.300,74.300 99,65 115.600,74.300 132.600,64.300 155,75M47.200,74 47.200,93.700M50.200,74 50.200,93.700"/><path class="w" d="M64.300,64.300 62,50 66.500,50z"/><text x="47.800" y="15">R</text><text x="30" y="44.300">O</text><text x="69" y="44.300">NH</text><text x="48.700" y="93.700">O</text><text x="30" y="65">N</text><text x="30" y="75">H</text><text x="13.400" y="74.300">R</text><text x="159.400" y="75">NH<tspan class="s">2</tspan></text></g><text class="l" x="1208" y="4010.500">C02188</text></g>

<g id="C00002-node"><rect class="c" x="1407.500" y="3900.500" width="328" height="112"/><g class="m" font-size="13" transform="translate(1407.500,3900.500)"><path d="M20,48 145.400,48 161.900,34M43.100,48 43.100,28M46.100,48 46.100,28M44.600,48 39.700,68M83.300,48 83.300,28M86.300,48 86.300,28M84.800,48 79.900,68M123.500,48 123.500,28M126.500,48 126.500,28M125,48 120,68M179.700,39.700 195.300,29 211,39.700 206.500,59 185.300,59zM185.300,59.600 206.500,59.600M228.600,34.700 237.600,16.300 256.700,15.700 262,34.700 244.200,49.700zM241,18 254,18M262,34.700 280.800,41.300 282,62.300 264.300,74.700 247.300,66.300 244.200,49.700M263,38 263,48M250,65 262,71M278,43 278,60M280.800,41.300 304,29.700"/><path class="w" d="M179.700,39.700 160,32 159,37zM211,39.700 228,31 229,36z"/><path class="h" d="M185.300,59 176,69M206.500,59 216,69"/><text x="20" y="48">HO</text><text x="44.600" y="48">P</text><text x="44.600" y="28">O</text><text x="39.700" y="68">HO</text><text x="64.700" y="48">O</text><text x="84.800" y="48">P</text><text x="84.800" y="28">O</text><text x="79.900" y="68">HO</text><text x="105" y="48">O</text><text x="125" y="48">P</text><text x="125" y="28">O</text><text x="120" y="68">HO</text><text x="145.400" y="48">O</text><text x="195.300" y="29">O</text><text x="173.600" y="78">HO</text><text x="221" y="76.300">OH</text><text x="228.600" y="34.700">N</text><text x="256.700" y="15.700">N</text><text x="247.300" y="66.300">N</text><text x="282" y="62.300">N</text><text x="304.500" y="29.700">NH<tspan class="s">2</tspan></text></g><text class="l" x="1416" y="4002.500">C00002</text></g>
</svg>
